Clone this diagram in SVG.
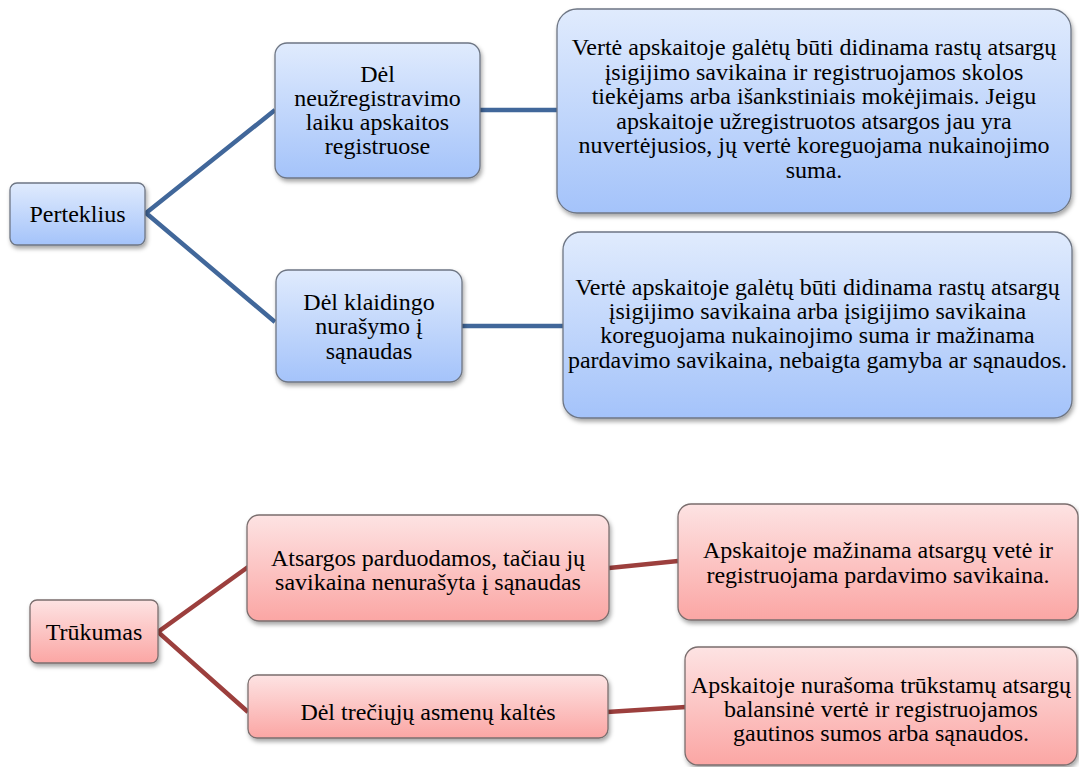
<svg xmlns="http://www.w3.org/2000/svg" width="1079" height="767" viewBox="0 0 1079 767">
  <defs>
    <linearGradient id="gBlue" x1="0" y1="0" x2="0" y2="1">
      <stop offset="0" stop-color="#e0ebfd"/>
      <stop offset="1" stop-color="#a4c3fa"/>
    </linearGradient>
    <linearGradient id="gRed" x1="0" y1="0" x2="0" y2="1">
      <stop offset="0" stop-color="#fde3e3"/>
      <stop offset="1" stop-color="#fba6a4"/>
    </linearGradient>
    <filter id="shadow" x="-10%" y="-10%" width="125%" height="130%">
      <feDropShadow dx="1.5" dy="3" stdDeviation="2" flood-color="#000" flood-opacity="0.35"/>
    </filter>
  </defs>
  <style>
    .blue { fill: url(#gBlue); stroke: #6e7684; stroke-width: 1.3; filter: url(#shadow); }
    .red { fill: url(#gRed); stroke: #7a6e6e; stroke-width: 1.3; filter: url(#shadow); }
    .lblue { stroke: #41679a; stroke-width: 4.5; fill: none; }
    .lred { stroke: #9c3f3d; stroke-width: 4.5; fill: none; }
    text { font-family: "Liberation Serif", "Times New Roman", serif; font-size: 24px; fill: #000; text-anchor: middle; }
  </style>

  <!-- connectors -->
  <g id="connectors">
    <polyline class="lblue" points="275,110 146,213 275,322"/>
    <line class="lblue" x1="480" y1="110" x2="558" y2="110"/>
    <line class="lblue" x1="462" y1="326" x2="564" y2="326"/>
    <polyline class="lred" points="248,567 158,632 248,712"/>
    <line class="lred" x1="609" y1="568" x2="678" y2="561"/>
    <line class="lred" x1="607" y1="712" x2="686" y2="707"/>
  </g>

  <!-- surplus branch -->
  <g id="perteklius">
    <rect class="blue" x="10" y="183" width="135" height="62" rx="7"/>
    <text x="77.5" y="222">Perteklius</text>
  </g>
  <g id="del-neuzregistravimo">
    <rect class="blue" x="275" y="43" width="205" height="135" rx="12"/>
    <text x="377.5" y="82">Dėl</text>
    <text x="377.5" y="106">neužregistravimo</text>
    <text x="377.5" y="130">laiku apskaitos</text>
    <text x="377.5" y="154">registruose</text>
  </g>
  <g id="verte-1">
    <rect class="blue" x="557" y="9" width="514" height="204" rx="20"/>
    <text x="814" y="55">Vertė apskaitoje galėtų būti didinama rastų atsargų</text>
    <text x="814" y="80">įsigijimo savikaina ir registruojamos skolos</text>
    <text x="814" y="104">tiekėjams arba išankstiniais mokėjimais. Jeigu</text>
    <text x="814" y="129">apskaitoje užregistruotos atsargos jau yra</text>
    <text x="814" y="153">nuvertėjusios, jų vertė koreguojama nukainojimo</text>
    <text x="814" y="178">suma.</text>
  </g>
  <g id="del-klaidingo">
    <rect class="blue" x="276" y="270" width="186" height="112" rx="12"/>
    <text x="369" y="310">Dėl klaidingo</text>
    <text x="369" y="334">nurašymo į</text>
    <text x="369" y="359">sąnaudas</text>
  </g>
  <g id="verte-2">
    <rect class="blue" x="563" y="232" width="509" height="186" rx="18"/>
    <text x="817.5" y="295">Vertė apskaitoje galėtų būti didinama rastų atsargų</text>
    <text x="817.5" y="319">įsigijimo savikaina arba įsigijimo savikaina</text>
    <text x="817.5" y="343">koreguojama nukainojimo suma ir mažinama</text>
    <text x="817.5" y="368">pardavimo savikaina, nebaigta gamyba ar sąnaudos.</text>
  </g>

  <!-- shortage branch -->
  <g id="trukumas">
    <rect class="red" x="30" y="600" width="128" height="63" rx="7"/>
    <text x="94" y="640">Trūkumas</text>
  </g>
  <g id="atsargos-parduodamos">
    <rect class="red" x="247" y="515" width="362" height="106" rx="12"/>
    <text x="428" y="566">Atsargos parduodamos, tačiau jų</text>
    <text x="428" y="590">savikaina nenurašyta į sąnaudas</text>
  </g>
  <g id="mazinama-verte">
    <rect class="red" x="678" y="504" width="400" height="116" rx="13"/>
    <text x="878" y="558">Apskaitoje mažinama atsargų vetė ir</text>
    <text x="878" y="583">registruojama pardavimo savikaina.</text>
  </g>
  <g id="treciuju-asmenu">
    <rect class="red" x="248" y="675" width="360" height="63" rx="9"/>
    <text x="428" y="720">Dėl trečiųjų asmenų kaltės</text>
  </g>
  <g id="nurasoma">
    <rect class="red" x="685" y="647" width="392" height="118" rx="13"/>
    <text x="881" y="693">Apskaitoje nurašoma trūkstamų atsargų</text>
    <text x="881" y="717">balansinė vertė ir registruojamos</text>
    <text x="881" y="741">gautinos sumos arba sąnaudos.</text>
  </g>
</svg>
